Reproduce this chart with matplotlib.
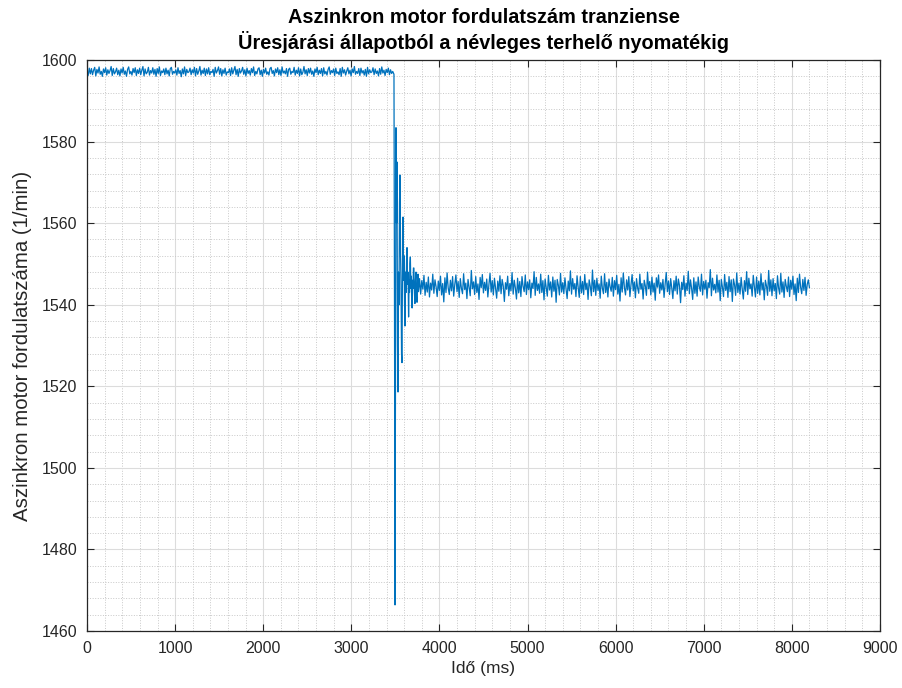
import numpy as np
import matplotlib.pyplot as plt
from matplotlib.ticker import MultipleLocator

# no-load steady state, 0 .. 3470 ms (1/min)
pre_rpm = [
    1597.3, 1596.2, 1598.0, 1596.6, 1597.9, 1596.4, 1597.5, 1598.2, 1596.1, 1597.7,
    1596.8, 1598.3, 1596.5, 1597.2, 1596.0, 1597.8, 1596.9, 1598.1, 1596.3, 1597.6,
    1596.7, 1597.4, 1598.4, 1596.2, 1597.9, 1596.6, 1597.1, 1598.0, 1596.4, 1597.5,
    1596.1, 1597.8, 1596.8, 1598.2, 1596.5, 1597.3, 1596.0, 1597.7, 1598.3, 1596.6,
    1597.2, 1596.3, 1597.9, 1596.9, 1598.1, 1596.2, 1597.6, 1596.7, 1598.0, 1596.4,
    1597.5, 1598.4, 1596.1, 1597.8, 1596.6, 1597.0, 1598.2, 1596.3, 1597.4, 1596.8,
    1598.1, 1596.5, 1597.7, 1596.0, 1597.9, 1596.7, 1598.3, 1596.2, 1597.3, 1596.9,
    1597.8, 1596.4, 1598.0, 1596.6, 1597.5, 1596.1, 1597.9, 1598.2, 1596.5, 1597.2,
    1596.8, 1597.6, 1596.3, 1598.1, 1596.7, 1597.4, 1595.9, 1597.8, 1596.6, 1598.3,
    1596.2, 1597.7, 1596.9, 1597.1, 1598.0, 1596.4, 1597.6, 1596.8, 1598.2, 1596.1,
    1597.9, 1596.5, 1597.3, 1598.4, 1596.3, 1597.5, 1596.7, 1598.0, 1596.2, 1597.8,
    1596.6, 1598.1, 1596.4, 1597.2, 1596.9, 1597.7, 1596.0, 1598.2, 1596.8, 1597.4,
    1598.3, 1596.5, 1597.9, 1596.1, 1597.6, 1596.7, 1598.0, 1596.3, 1597.1, 1596.9,
    1597.8, 1596.2, 1598.1, 1596.6, 1597.5, 1598.4, 1596.4, 1597.7, 1596.0, 1597.9,
    1596.8, 1597.3, 1598.2, 1596.5, 1597.6, 1596.1, 1598.0, 1596.7, 1597.4, 1596.3,
    1597.9, 1596.9, 1598.3, 1596.2, 1597.2, 1596.6, 1597.8, 1598.1, 1596.4, 1597.5,
    1596.0, 1597.7, 1596.8, 1598.0, 1596.5, 1597.1, 1596.3, 1597.9, 1598.2, 1596.7,
    1597.4, 1596.1, 1597.8, 1596.9, 1598.1, 1596.4, 1597.6, 1596.2, 1598.3, 1596.8,
    1597.3, 1596.6, 1597.9, 1596.0, 1597.7, 1598.0, 1596.5, 1597.2, 1596.9, 1598.2,
    1596.3, 1597.5, 1596.7, 1598.1, 1596.1, 1597.8, 1596.4, 1597.0, 1598.4, 1596.6,
    1597.6, 1596.2, 1597.9, 1596.8, 1598.0, 1596.5, 1597.3, 1596.0, 1597.8, 1596.9,
    1598.2, 1596.4, 1597.5, 1596.7, 1597.9, 1596.1, 1598.1, 1596.6, 1597.2, 1596.3,
    1597.7, 1598.3, 1596.5, 1597.4, 1596.9, 1597.8, 1596.2, 1598.0, 1596.7, 1597.1,
    1596.4, 1597.9, 1596.0, 1598.2, 1596.8, 1597.6, 1596.3, 1597.3, 1598.1, 1596.6,
    1597.5, 1596.1, 1597.8, 1596.9, 1598.4, 1596.5, 1597.2, 1596.7, 1597.9, 1596.2,
    1598.0, 1596.8, 1597.4, 1596.3, 1597.7, 1596.0, 1598.2, 1596.6, 1597.6, 1596.9,
    1597.1, 1598.1, 1596.4, 1597.8, 1596.7, 1597.3, 1596.1, 1597.9, 1596.5, 1598.3,
    1596.8, 1597.5, 1596.2, 1597.7, 1596.9, 1598.0, 1596.4, 1597.6, 1596.7, 1597.2,
]

# load step transient (ms, 1/min)
trans_t = [3484, 3490, 3496, 3502, 3507, 3513, 3518, 3524, 3530, 3536,
           3541, 3547, 3553, 3559, 3564, 3570, 3575, 3581, 3587, 3593,
           3599, 3604, 3610, 3616, 3621, 3627, 3632, 3638, 3644, 3650,
           3656, 3660, 3665, 3670, 3676, 3680, 3685, 3690, 3695, 3700,
           3705, 3710, 3716, 3722, 3728, 3734, 3740, 3746, 3752, 3757]
trans_rpm = [1596.5, 1540.0, 1466.4, 1530.0, 1583.4, 1560.0, 1575.0, 1530.0, 1518.6, 1548.0,
             1540.0, 1565.0, 1571.8, 1552.0, 1545.0, 1528.0, 1525.8, 1550.0, 1561.5, 1546.0,
             1552.0, 1540.0, 1534.8, 1548.0, 1543.0, 1551.0, 1554.0, 1545.0, 1548.0, 1537.0,
             1546.0, 1543.0, 1550.0, 1551.7, 1544.0, 1547.0, 1541.0, 1539.2, 1546.0, 1544.0,
             1549.0, 1549.0, 1543.0, 1540.3, 1546.0, 1548.0, 1542.0, 1540.6, 1546.0, 1547.5]

# loaded steady state, 3762 .. 8200 ms (1/min)
post_rpm = [
    1543.2, 1546.4, 1542.6, 1545.9, 1543.8, 1547.2, 1542.3, 1545.5, 1543.1, 1546.8,
    1541.9, 1545.3, 1543.6, 1547.5, 1542.8, 1546.1, 1544.4, 1542.0, 1545.8, 1543.5,
    1547.0, 1542.4, 1545.2, 1540.7, 1546.6, 1543.0, 1547.8, 1544.1, 1542.5, 1546.0,
    1543.4, 1546.9, 1542.1, 1545.0, 1547.3, 1543.2, 1545.7, 1541.8, 1546.4, 1544.0,
    1542.7, 1547.6, 1543.7, 1545.3, 1541.5, 1546.2, 1544.3, 1542.2, 1548.4, 1543.9,
    1545.6, 1542.5, 1546.9, 1543.0, 1545.1, 1541.3, 1546.7, 1544.2, 1547.4, 1542.9,
    1545.5, 1543.5, 1546.3, 1541.9, 1545.0, 1547.7, 1543.1, 1545.9, 1542.4, 1546.5,
    1544.0, 1541.6, 1545.8, 1543.3, 1547.1, 1542.7, 1546.2, 1544.6, 1540.8, 1545.4,
    1543.8, 1547.0, 1542.2, 1545.2, 1543.4, 1547.9, 1542.6, 1546.0, 1544.1, 1541.4,
    1546.5, 1542.9, 1545.7, 1542.0, 1546.9, 1544.5, 1543.2, 1547.3, 1542.5, 1545.6,
    1543.7, 1546.1, 1541.7, 1545.3, 1544.0, 1548.1, 1542.3, 1546.7, 1543.5, 1545.1,
    1542.8, 1547.5, 1543.0, 1545.9, 1541.2, 1546.3, 1544.2, 1542.1, 1547.2, 1543.6,
    1545.6, 1541.9, 1546.8, 1543.3, 1546.0, 1540.6, 1546.2, 1544.8, 1542.4, 1547.7,
    1543.1, 1545.4, 1542.7, 1546.6, 1543.9, 1541.5, 1545.8, 1543.4, 1548.3, 1542.6,
    1546.4, 1543.8, 1545.2, 1542.0, 1547.1, 1544.3, 1541.8, 1546.9, 1542.9, 1545.7,
    1542.5, 1547.4, 1543.7, 1545.3, 1541.3, 1546.1, 1544.5, 1542.2, 1548.5, 1543.2,
    1546.0, 1542.3, 1546.5, 1543.5, 1545.1, 1541.6, 1547.0, 1544.0, 1542.7, 1547.6,
    1543.0, 1545.5, 1541.9, 1546.3, 1544.4, 1543.3, 1546.7, 1542.1, 1545.9, 1543.7,
    1547.2, 1542.6, 1545.0, 1540.9, 1546.6, 1543.1, 1547.8, 1544.2, 1542.4, 1546.1,
    1543.6, 1546.9, 1542.0, 1544.9, 1547.4, 1543.4, 1545.6, 1541.7, 1546.4, 1544.1,
    1542.8, 1547.5, 1543.8, 1545.2, 1541.4, 1546.0, 1544.6, 1542.3, 1548.0, 1543.9,
    1545.7, 1542.4, 1546.8, 1543.1, 1545.3, 1541.1, 1546.6, 1544.3, 1547.3, 1542.8,
    1545.4, 1543.6, 1546.2, 1541.8, 1545.1, 1547.9, 1543.2, 1545.8, 1542.5, 1546.4,
    1544.1, 1541.5, 1545.9, 1543.4, 1547.0, 1542.6, 1546.3, 1544.7, 1540.5, 1545.5,
    1543.7, 1547.1, 1542.1, 1545.3, 1543.5, 1548.2, 1542.7, 1546.1, 1544.0, 1541.3,
    1546.6, 1542.8, 1545.6, 1542.1, 1546.8, 1544.4, 1543.3, 1547.5, 1542.4, 1545.7,
    1543.8, 1546.0, 1541.6, 1545.4, 1544.2, 1548.6, 1542.2, 1546.5, 1543.6, 1545.0,
    1542.9, 1547.3, 1543.1, 1546.0, 1541.0, 1546.2, 1544.3, 1542.0, 1547.4, 1543.5,
    1545.5, 1541.8, 1546.9, 1543.2, 1546.1, 1540.8, 1546.3, 1544.9, 1542.3, 1547.8,
    1543.0, 1545.3, 1542.6, 1546.7, 1543.8, 1541.4, 1545.9, 1543.3, 1548.1, 1542.5,
    1546.5, 1543.9, 1545.1, 1542.1, 1547.2, 1544.4, 1541.9, 1546.8, 1542.8, 1545.8,
    1542.4, 1547.6, 1543.6, 1545.4, 1541.2, 1546.0, 1544.6, 1542.3, 1548.4, 1543.3,
    1546.1, 1542.2, 1546.4, 1543.4, 1545.2, 1541.5, 1547.1, 1544.1, 1542.6, 1547.7,
    1543.1, 1545.6, 1541.8, 1546.2, 1544.5, 1543.2, 1546.8, 1542.0, 1546.0, 1543.8,
    1547.0, 1542.5, 1545.1, 1541.0, 1546.5, 1543.0, 1547.5, 1544.3, 1542.7, 1546.2,
    1543.5, 1546.7, 1542.3, 1545.0, 1546.1, 1544.2,
]

pre_t = np.linspace(0, 3470, len(pre_rpm))
post_t = np.linspace(3762, 8200, len(post_rpm))

t = np.concatenate([pre_t, trans_t, post_t])
rpm = np.concatenate([pre_rpm, trans_rpm, post_rpm])

plt.rcParams['font.family'] = ['Liberation Sans', 'DejaVu Sans']
axc = '#262626'

fig = plt.figure(figsize=(9.02, 6.88), dpi=100)
ax = fig.add_axes([0.0965, 0.0828, 0.879, 0.830])

ax.plot(t, rpm, color='#0072BD', linewidth=0.9)

ax.set_xlim(0, 9000)
ax.set_ylim(1460, 1600)
ax.xaxis.set_major_locator(MultipleLocator(1000))
ax.xaxis.set_minor_locator(MultipleLocator(200))
ax.yaxis.set_major_locator(MultipleLocator(20))
ax.yaxis.set_minor_locator(MultipleLocator(4))

ax.grid(True, which='major', color='#dcdcdc', linewidth=0.8)
ax.grid(True, which='minor', color='#c8c8c8', linestyle=':', linewidth=0.7)
ax.set_axisbelow(True)

ax.tick_params(which='major', direction='in', length=5, width=0.8, color=axc,
               top=True, right=True, labelsize=11.5, labelcolor=axc, pad=7)
ax.tick_params(which='minor', length=0)
for s in ax.spines.values():
    s.set_color(axc)
    s.set_linewidth(0.9)

ax.set_xlabel('Idő (ms)', fontsize=12.5, color=axc, labelpad=4)
ax.set_ylabel('Aszinkron motor fordulatszáma (1/min)', fontsize=14.7, color=axc, labelpad=7)
ax.set_title('Aszinkron motor fordulatszám tranziense\n'
             'Üresjárási állapotból a névleges terhelő nyomatékig',
             fontsize=14.3, fontweight='bold', color='black', pad=8, linespacing=1.2)

fig.savefig('out.png', dpi=100)
